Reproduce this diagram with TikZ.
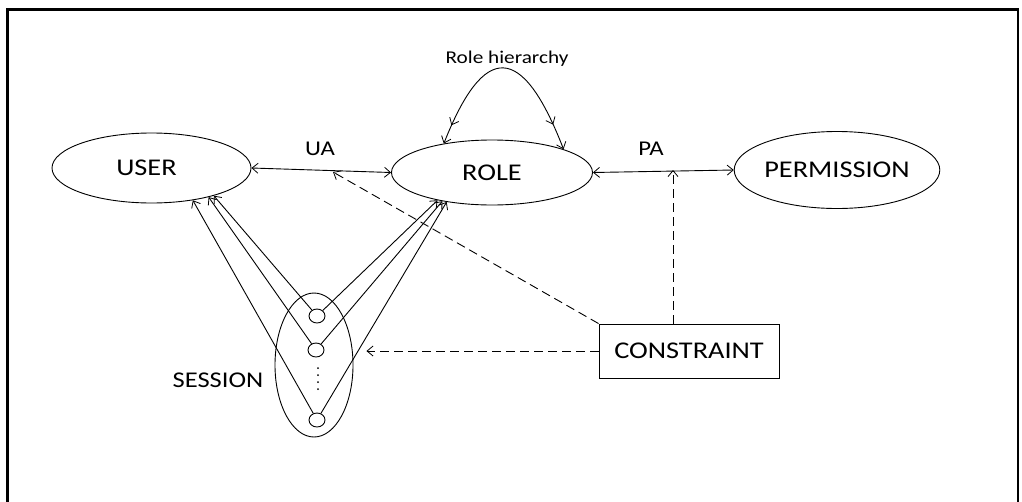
\documentclass[tikz,border=0pt]{standalone}
\usepackage{fontspec}
\setmainfont{Carlito}[FakeStretch=1.18]
\usetikzlibrary{shapes.geometric,arrows.meta,decorations.markings}

\begin{document}
\begin{tikzpicture}[x=1pt,y=-1pt,line width=0.9pt,
  >={Straight Barb[length=6pt,width=10pt,line width=0.8pt]},
  entity/.style={draw,ellipse,inner sep=0pt,font=\fontsize{24}{27}\selectfont},
  dot/.style={draw,ellipse,inner sep=0pt,minimum width=16pt,minimum height=14pt},
  label/.style={inner sep=0pt,font=\fontsize{21}{24}\selectfont},
  dashline/.style={dash pattern=on 9pt off 5pt}]

  % canvas and frame
  \useasboundingbox (0,0) rectangle (1022,501);
  \fill[white] (0,0) rectangle (1022,501);
  \draw[line width=2.6pt] (7.5,505) -- (7.5,9.5) -- (1018,9.5) -- (1018,505);

  % main entities
  \node[entity,minimum width=199pt,minimum height=70pt] (user) at (151.5,168) {\hspace*{-10pt}USER};
  \node[entity,minimum width=201pt,minimum height=65pt] (role) at (492,172.5) {ROLE};
  \node[entity,minimum width=204pt,minimum height=77pt] (perm) at (837,170) {PERMISSION};
  \node[draw,rectangle,minimum width=180pt,minimum height=54pt,inner sep=0pt,
        font=\fontsize{24}{27}\selectfont] (constraint) at (689,351) {CONSTRAINT};

  % session group
  \node[draw,ellipse,minimum width=78pt,minimum height=144pt,inner sep=0pt] (session) at (314,365) {};
  \node[dot] (s1) at (317,316) {};
  \node[dot] (s2) at (316,350) {};
  \node[dot] (s3) at (317,420) {};
  \foreach \yy in {368,375,382,389} \fill (318,\yy) circle (1pt);
  \node[label,font=\fontsize{22.5}{26}\selectfont] (sesslabel) at (218,380) {SESSION};

  % labels
  \node[label] (ua) at (320,149) {UA};
  \node[label] (pa) at (651,149) {PA};
  \node[inner sep=0pt,font=\fontsize{18}{21}\selectfont] (rh) at (507,59) {Role hierarchy};

  % assignments
  \draw[<->] (user.east) -- (role.west);
  \draw[<->] (role.east) -- (perm.west);
  \coordinate (paup) at (673,170);
  \coordinate (uaup) at (333,172);

  % role hierarchy loop
  \draw[<->,postaction={decorate},
        decoration={markings,
          mark=at position 0.13 with {\arrow{<}},
          mark=at position 0.87 with {\arrow{>}}}]
    (role.149.7) .. controls (484,42) and (522,42) .. (role.18.4);

  % session to user and role
  \draw[->] (s1) -- (user.-24);
  \draw[->] (s2) -- (user.-27.6);
  \draw[->] (s3) -- (user.-38.3);
  \draw[->] (s1) -- (role.-153.7);
  \draw[->] (s2) -- (role.-150.6);
  \draw[->] (s3) -- (role.-147.9);

  % constraints
  \draw[->,dashline] (constraint.north west) -- (uaup);
  \draw[->,dashline] (constraint.north -| paup) -- (paup);
  \draw[->,dashline,shorten >=13pt] (constraint.west) -- (constraint.west -| session.east);
\end{tikzpicture}
\end{document}
